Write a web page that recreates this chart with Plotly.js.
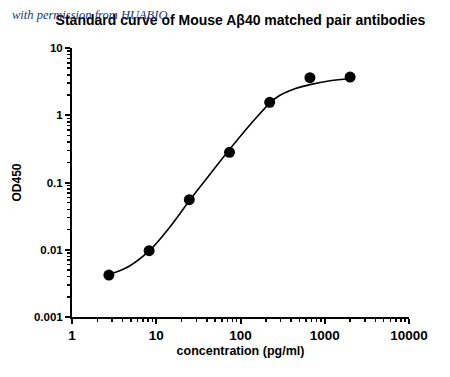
<!DOCTYPE html>
<html>
<head>
<meta charset="utf-8">
<script src="https://cdn.plot.ly/plotly-3.0.1.min.js"></script>
<style>html,body{margin:0;padding:0;background:#fff;}#chart{width:450px;height:377px;}</style>
</head>
<body>
<div id="chart"></div>
<script>
// Measured standards
const concentration = [2.74, 8.23, 24.7, 74.1, 222, 667, 2000];
const od450 = [0.0042, 0.0097, 0.0555, 0.281, 1.556, 3.62, 3.70];
// Fitted curve
const curveX = [2.74, 4.66, 8.28, 14.6, 25.2, 39.7, 75.7, 142, 228, 294, 450, 687, 1154, 2000];
const curveY = [0.0043, 0.0056, 0.0097, 0.022, 0.0555, 0.115, 0.32, 0.82, 1.556, 1.98, 2.5, 2.88, 3.25, 3.52];
// Tick labels
const xTickVals = [1, 10, 100, 1000, 10000];
const xTickText = ['1', '10', '100', '1000', '10000'];
const yTickVals = [0.001, 0.01, 0.1, 1, 10];
const yTickText = ['0.001', '0.01', '0.1', '1', '10'];

const FONT = 'Liberation Sans, Arial, sans-serif';

const traces = [
  {x: curveX, y: curveY, type: 'scatter', mode: 'lines',
   line: {color: '#000', width: 1.6, shape: 'spline', smoothing: 1}, hoverinfo: 'skip'},
  {x: concentration, y: od450, type: 'scatter', mode: 'markers',
   marker: {color: '#000', size: 11, symbol: 'circle'}}
];

const axisCommon = {
  type: 'log', showgrid: false, zeroline: false, showline: true,
  linecolor: '#000', linewidth: 2, ticks: 'outside', ticklen: 5, tickwidth: 2,
  tickcolor: '#000',
  minor: {dtick: 'D1', ticks: 'outside', ticklen: 3, tickwidth: 1.5, tickcolor: '#000', showgrid: false}
};

const layout = {
  width: 450, height: 377,
  margin: {l: 72, r: 41, t: 48, b: 60},
  paper_bgcolor: '#fff', plot_bgcolor: '#fff',
  showlegend: false,
  title: {text: 'Standard curve of Mouse Aβ40 matched pair antibodies',
          font: {family: FONT, size: 14, color: '#000', weight: 'bold'},
          x: 0.5, xref: 'paper', xanchor: 'center', y: 1 - 20.5/377, yref: 'container', yanchor: 'middle'},
  xaxis: Object.assign({}, axisCommon, {
    range: [0, 4], tickvals: xTickVals, ticktext: xTickText,
    tickfont: {family: FONT, size: 13.5, color: '#000', weight: 'bold'},
    title: {text: 'concentration (pg/ml)', standoff: 4,
            font: {family: FONT, size: 12.5, color: '#000', weight: 'bold'}}
  }),
  yaxis: Object.assign({}, axisCommon, {
    range: [-3, 1], tickvals: yTickVals, ticktext: yTickText,
    tickfont: {family: FONT, size: 11.5, color: '#000', weight: 'bold'},
    title: {text: 'OD450', standoff: 10,
            font: {family: FONT, size: 12, color: '#000', weight: 'bold'}}
  }),
  annotations: [{
    text: 'with permission from HUABIO', showarrow: false,
    xref: 'paper', yref: 'paper', x: (10 - 72) / 337, y: (317 - 15) / 269,
    xanchor: 'left', yanchor: 'middle',
    font: {family: 'Liberation Serif, serif', size: 12.5, color: '#22357a', style: 'italic'}
  }]
};

Plotly.newPlot('chart', traces, layout, {displayModeBar: false, staticPlot: true});
</script>
</body>
</html>
